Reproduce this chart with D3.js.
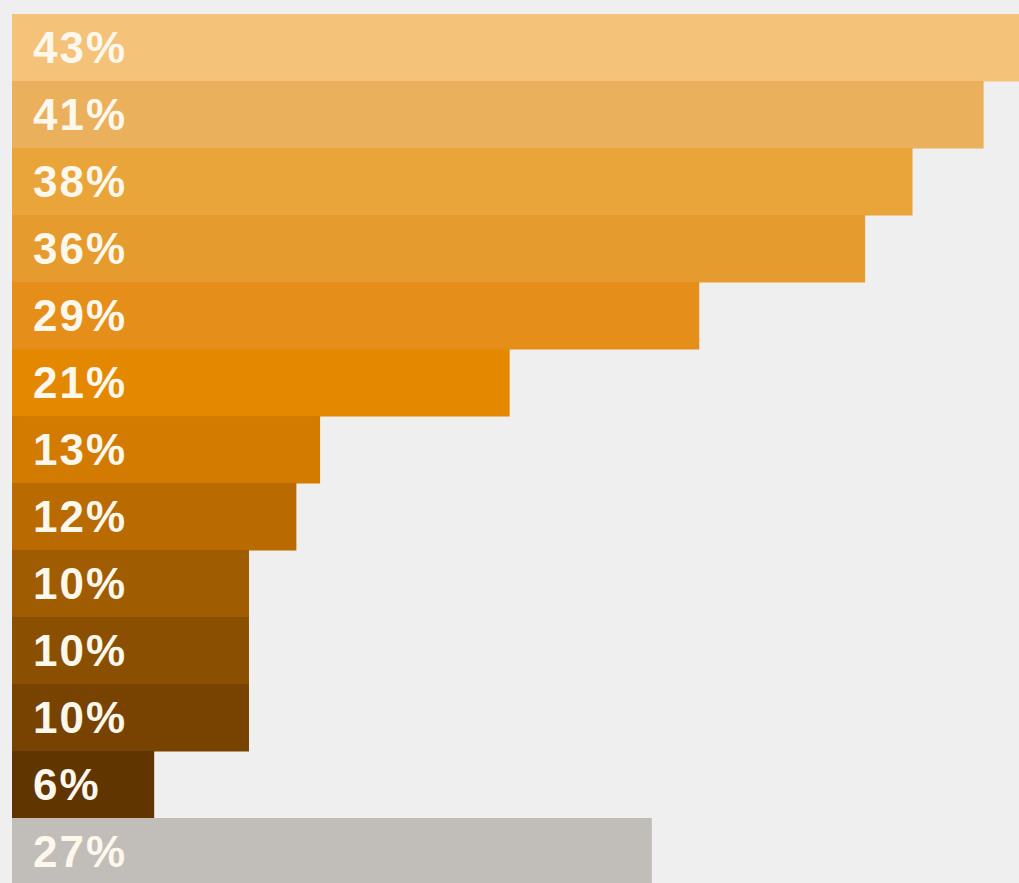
<!DOCTYPE html>
<html><head><meta charset="utf-8">
<script src="https://cdn.jsdelivr.net/npm/d3@7"></script>
<style>html,body{margin:0;padding:0;background:#efefef;}svg{display:block;}</style>
</head><body>
<svg id="c" width="1019" height="883"></svg>
<script>
const categories = ["a","b","c","d","e","f","g","h","i","j","k","l","m"];
const values = [43,41,38,36,29,21,13,12,10,10,10,6,27];
const labels = ["43%","41%","38%","36%","29%","21%","13%","12%","10%","10%","10%","6%","27%"];
const colors = ["#f5c279","#ebb05b","#e9a43a","#e69b2e","#e58e1a","#e48800","#d27b00","#b96a00","#a05c00","#8a5000","#784300","#603500","#c1bdb8"];

const svg = d3.select("#c");
const x = d3.scaleLinear().domain([0,43]).range([12,1031]);
const y = d3.scaleBand().domain(categories).range([14,14+67*13]).padding(0);

svg.selectAll("rect.bar").data(values).join("rect")
  .attr("class","bar")
  .attr("x", x(0))
  .attr("y", (d,i)=>y(categories[i]))
  .attr("width", d=>x(d)-x(0))
  .attr("height", y.bandwidth()+0.5)
  .attr("fill", (d,i)=>colors[i]);

svg.selectAll("text.lbl").data(labels).join("text")
  .attr("class","lbl")
  .attr("x", 33)
  .attr("y", (d,i)=>y(categories[i]) + y.bandwidth()/2 + 15.5)
  .attr("fill","#fdf7ec")
  .attr("font-family","'Liberation Sans', Arial, Helvetica, sans-serif")
  .attr("font-size", 44)
  .attr("font-weight", "bold")
  .attr("letter-spacing", 2)
  .text(d=>d);
</script>
</body></html>
